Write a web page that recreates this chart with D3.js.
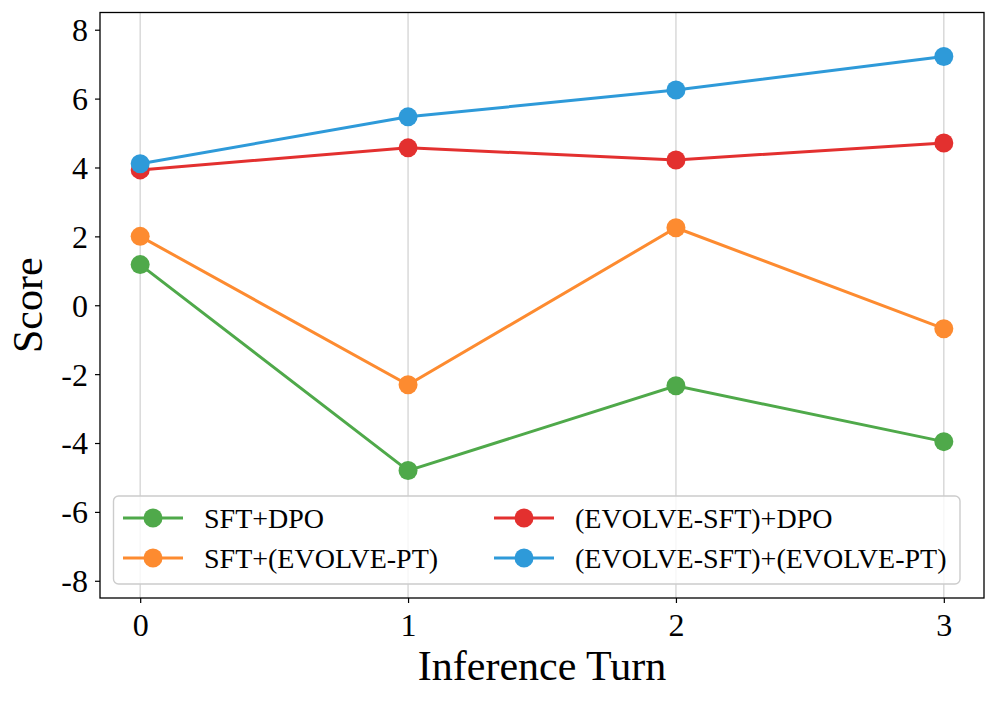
<!DOCTYPE html>
<html><head><meta charset="utf-8">
<script src="https://cdn.jsdelivr.net/npm/d3@7"></script>
<style>body{margin:0;background:#fff}svg{display:block}text{font-family:"Liberation Serif","Times New Roman",serif}</style>
</head><body>
<svg id="c" width="997" height="701"></svg>
<script>
const turns = [0, 1, 2, 3];
const yTicks = [-8, -6, -4, -2, 0, 2, 4, 6, 8];
const seriesNames = ["SFT+DPO", "SFT+(EVOLVE-PT)", "(EVOLVE-SFT)+DPO", "(EVOLVE-SFT)+(EVOLVE-PT)"];
const sftDpo = [1.18, -4.8, -2.34, -3.96];
const sftEvolvePt = [2.0, -2.31, 2.25, -0.68];
const evolveSftDpo = [3.93, 4.57, 4.22, 4.71];
const evolveSftEvolvePt = [4.11, 5.47, 6.25, 7.22];
const colors = ["#4fa94a", "#fd8b30", "#e3302f", "#2e9ad9"];

const series = [sftDpo, sftEvolvePt, evolveSftDpo, evolveSftEvolvePt];
const svg = d3.select("#c");
const L = 100, R = 984, T = 12.5, B = 598;
const x = d3.scaleLinear().domain([-0.15, 3.15]).range([L, R]);
const y = d3.scaleLinear().domain([-8.5, 8.5]).range([B, T]);

// grid
svg.append("g").selectAll("line").data(turns).join("line")
  .attr("x1", d => x(d)).attr("x2", d => x(d)).attr("y1", T).attr("y2", B)
  .attr("stroke", "#d6d6d6").attr("stroke-width", 1.4);

// axes
const xa = svg.append("g").attr("transform", `translate(0,${B})`)
  .call(d3.axisBottom(x).tickValues(turns).tickSize(5).tickPadding(7).tickFormat(d3.format("d")));
const ya = svg.append("g").attr("transform", `translate(${L},0)`)
  .call(d3.axisLeft(y).tickValues(yTicks).tickSize(5).tickPadding(7).tickFormat(d => String(d)));
[xa, ya].forEach(a => {
  a.select(".domain").remove();
  a.selectAll("line").attr("stroke", "#000").attr("stroke-width", 1.2);
  a.selectAll("text").attr("font-size", 32).attr("fill", "#000");
});
xa.selectAll("text").attr("dy", "0.82em");
ya.selectAll("text").attr("dy", "0.34em");

// frame
svg.append("rect").attr("x", L).attr("y", T).attr("width", R - L).attr("height", B - T)
  .attr("fill", "none").attr("stroke", "#000").attr("stroke-width", 1.3);

// lines
const line = d3.line().x((d, i) => x(turns[i])).y(d => y(d));
series.forEach((s, k) => {
  svg.append("path").datum(s).attr("d", line).attr("fill", "none")
    .attr("stroke", colors[k]).attr("stroke-width", 3);
  svg.append("g").selectAll("circle").data(s).join("circle")
    .attr("cx", (d, i) => x(turns[i])).attr("cy", d => y(d)).attr("r", 9.5)
    .attr("fill", colors[k]);
});

// labels
svg.append("text").attr("x", x(1.5)).attr("y", 680).attr("text-anchor", "middle")
  .attr("font-size", 42).text("Inference Turn");
svg.append("text").attr("transform", `translate(42,${(T + B) / 2}) rotate(-90)`)
  .attr("text-anchor", "middle").attr("font-size", 42).text("Score");

// legend
const lg = svg.append("g");
lg.append("rect").attr("x", 113.5).attr("y", 496).attr("width", 846.5).attr("height", 88)
  .attr("rx", 5).attr("fill", "#fff").attr("fill-opacity", 0.8)
  .attr("stroke", "#cccccc").attr("stroke-width", 1.4);
const pos = [[123, 518], [123, 558], [494, 518], [494, 558]];
seriesNames.forEach((n, k) => {
  const [px, py] = pos[k];
  lg.append("line").attr("x1", px).attr("x2", px + 60).attr("y1", py).attr("y2", py)
    .attr("stroke", colors[k]).attr("stroke-width", 3);
  lg.append("circle").attr("cx", px + 30).attr("cy", py).attr("r", 9.5).attr("fill", colors[k]);
  lg.append("text").attr("x", px + 81).attr("y", py).attr("dy", "0.35em")
    .attr("font-size", 28).text(n);
});
</script>
</body></html>
